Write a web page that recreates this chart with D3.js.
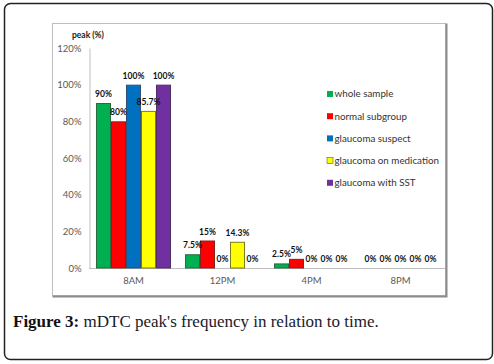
<!DOCTYPE html>
<html>
<head>
<meta charset="utf-8">
<script src="https://cdn.jsdelivr.net/npm/d3@7"></script>
<style>
  body { margin: 0; background: #fff; }
  svg { display: block; }
</style>
</head>
<body>
<svg id="chart" width="494" height="364"></svg>
<script>
// chart data
const times = ['8AM', '12PM', '4PM', '8PM']
const groups = ['whole sample', 'normal subgroup', 'glaucoma suspect', 'glaucoma on medication', 'glaucoma with SST']
const wholeSample = [90, 7.5, 2.5, 0]
const normalSubgroup = [80, 15, 5, 0]
const glaucomaSuspect = [100, 0, 0, 0]
const glaucomaMedication = [85.7, 14.3, 0, 0]
const glaucomaSST = [100, 0, 0, 0]
const yTicks = [0, 20, 40, 60, 80, 100, 120]

const series = [wholeSample, normalSubgroup, glaucomaSuspect, glaucomaMedication, glaucomaSST]
const colors = ['#00b050', '#ff0000', '#0070c0', '#ffff00', '#7030a0']
const strokes = ['#2a6a3e', '#8a2020', '#2f4f76', '#7a7a20', '#4b2f65']

const svg = d3.select('#chart')

// outer figure frame
svg.append('rect')
  .attr('x', 4.5).attr('y', 3.5)
  .attr('width', 488).attr('height', 356)
  .attr('rx', 6)
  .attr('fill', 'none')
  .attr('stroke', '#222')
  .attr('stroke-width', 1.5)

// chart area box with shadow on right/bottom
svg.append('rect')
  .attr('x', 52.5).attr('y', 23.5)
  .attr('width', 393).attr('height', 272)
  .attr('fill', '#fff')
  .attr('stroke', '#bdbdbd')
  .attr('stroke-width', 1)
svg.append('path')
  .attr('d', 'M446.5,23.5 V296.5 H52.5')
  .attr('fill', 'none')
  .attr('stroke', '#8c8c8c')
  .attr('stroke-width', 2)

const x0 = d3.scaleBand().domain(times).range([89, 445]).paddingInner(0.157).paddingOuter(0.0785)
const x1 = d3.scaleBand().domain(groups).range([0, x0.bandwidth()])
const y = d3.scaleLinear().domain([0, 120]).range([268, 48])

// y axis
const yAxis = d3.axisLeft(y)
  .tickValues(yTicks)
  .tickSize(0)
  .tickPadding(8)
  .tickFormat(d => d + '%')
const gy = svg.append('g')
  .attr('transform', 'translate(89.5,0)')
  .call(yAxis)
gy.select('.domain').attr('stroke', '#bfbfbf')
gy.selectAll('text')
  .attr('fill', '#595959')
  .style('font-family', 'Lato, "Open Sans", sans-serif')
  .style('font-size', '9.5px')

// x axis
const xAxis = d3.axisBottom(x0).tickSize(0).tickPadding(9)
const gx = svg.append('g')
  .attr('transform', 'translate(0,268.5)')
  .call(xAxis)
gx.select('.domain').attr('stroke', '#bfbfbf').attr('d', 'M89,0H445')
gx.selectAll('text')
  .attr('fill', '#595959')
  .style('font-family', 'Lato, "Open Sans", sans-serif')
  .style('font-size', '9.5px')

// y title
svg.append('text')
  .attr('x', 72).attr('y', 38)
  .style('font-family', 'Lato, "Open Sans", sans-serif')
  .style('font-size', '8.5px')
  .style('font-weight', 'bold')
  .attr('fill', '#222')
  .text('peak (%)')

// bars
const cells = []
times.forEach((t, i) => {
  groups.forEach((g, j) => {
    cells.push({ t, g, j, v: series[j][i] })
  })
})

svg.append('g').selectAll('rect')
  .data(cells.filter(d => d.v > 0))
  .join('rect')
  .attr('x', d => x0(d.t) + x1(d.g) + 0.5)
  .attr('y', d => y(d.v) + 0.5)
  .attr('width', x1.bandwidth() - 1)
  .attr('height', d => y(0) - y(d.v) - 0.5)
  .attr('fill', d => colors[d.j])
  .attr('stroke', d => strokes[d.j])
  .attr('stroke-width', 1)

// value labels
svg.append('g').selectAll('text')
  .data(cells)
  .join('text')
  .attr('x', d => x0(d.t) + x1(d.g) + x1.bandwidth() / 2)
  .attr('y', d => y(d.v) - 6)
  .attr('text-anchor', 'middle')
  .style('font-family', 'Lato, "Open Sans", sans-serif')
  .style('font-size', '8.5px')
  .style('font-weight', 'bold')
  .attr('fill', '#111')
  .text(d => d.v + '%')

// legend
const legend = svg.append('g').attr('transform', 'translate(327,0)')
groups.forEach((g, j) => {
  const ly = 94 + j * 22.2
  legend.append('rect')
    .attr('x', 0).attr('y', ly - 3)
    .attr('width', 6).attr('height', 6)
    .attr('fill', colors[j])
    .attr('stroke', j === 3 ? '#555' : 'none')
    .attr('stroke-width', 0.6)
  legend.append('text')
    .attr('x', 7.5).attr('y', ly + 3.4)
    .style('font-family', 'Lato, "Open Sans", sans-serif')
    .style('font-size', '9.8px')
    .attr('fill', '#333')
    .text(g)
})

// caption
const cap = svg.append('text')
  .attr('x', 13).attr('y', 327)
  .style('font-family', '"Liberation Serif", "DejaVu Serif", serif')
  .style('font-size', '17px')
  .attr('fill', '#1a1a2a')
cap.append('tspan').style('font-weight', 'bold').attr('fill', '#111').text('Figure 3:')
cap.append('tspan').text(" mDTC peak's frequency in relation to time.")
</script>
</body>
</html>
